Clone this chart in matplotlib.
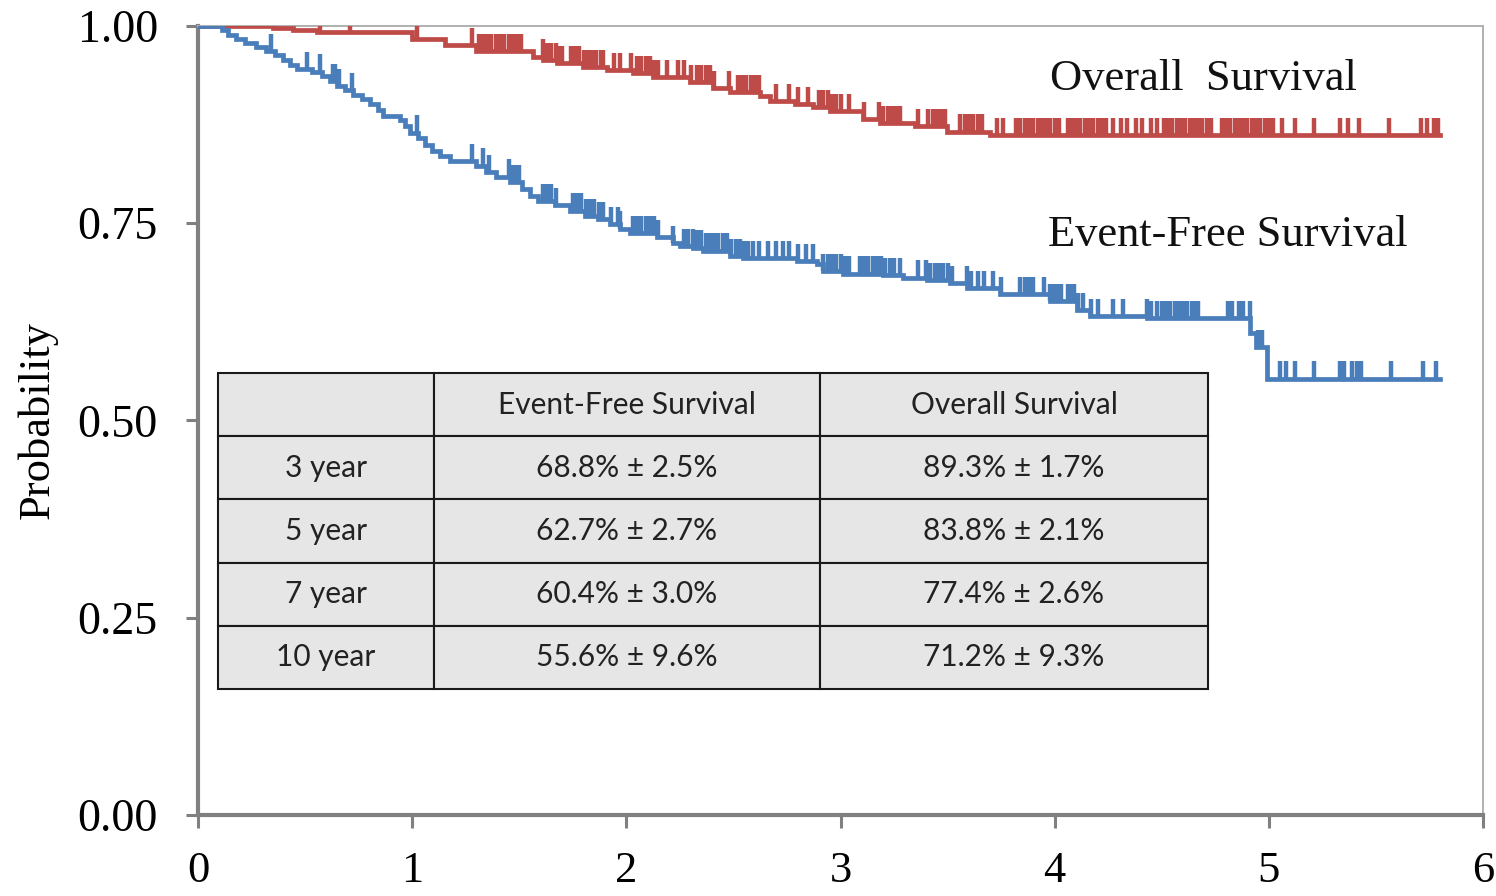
"""Kaplan-Meier curves for event-free and overall survival with a
summary table of landmark estimates drawn inside the plot area."""
import numpy as np
import matplotlib
matplotlib.use("Agg")
import matplotlib.pyplot as plt

plt.rcParams.update({
    "font.family": ["Liberation Serif", "DejaVu Serif"],
    "font.size": 32,
})

# Overall survival: step times (years) and survival after each step
os_time = [0.0, 0.350, 0.444, 0.556, 1.000, 1.153, 1.298, 1.564, 1.611,
           1.676, 1.798, 1.910, 2.031, 2.124, 2.297, 2.405, 2.484, 2.624,
           2.671, 2.788, 2.872, 2.951, 3.105, 3.184, 3.348, 3.497, 3.698]
os_surv = [1.000, 0.9975, 0.995, 0.992, 0.984, 0.976, 0.968, 0.961, 0.957,
           0.953, 0.948, 0.944, 0.940, 0.935, 0.929, 0.921, 0.916, 0.911,
           0.905, 0.901, 0.897, 0.892, 0.882, 0.877, 0.873, 0.866, 0.862]
os_censor = [
    0.57, 0.71, 1.02, 1.28,
    1.31, 1.33, 1.35, 1.37, 1.39, 1.41, 1.43, 1.45, 1.47, 1.49, 1.51,
    1.61, 1.63, 1.65, 1.67, 1.69, 1.70,
    1.74, 1.76, 1.78, 1.80, 1.82, 1.84, 1.86, 1.88,
    1.89, 1.94, 1.97, 2.02,
    2.05, 2.07, 2.09, 2.11, 2.13, 2.15,
    2.19, 2.24, 2.27, 2.30, 2.33,
    2.35, 2.37, 2.39, 2.41, 2.48,
    2.52, 2.54, 2.56, 2.58, 2.60, 2.62,
    2.70, 2.76, 2.80, 2.85,
    2.90, 2.92, 2.94, 2.96, 2.98, 3.00,
    3.04, 3.11,
    3.18, 3.20, 3.22, 3.24, 3.26, 3.28,
    3.36, 3.41, 3.43, 3.45, 3.47, 3.49,
    3.56, 3.58, 3.60, 3.62, 3.64, 3.66,
    3.73, 3.76,
    3.82, 3.84, 3.86, 3.88, 3.90, 3.92, 3.94, 3.96, 3.98, 4.00, 4.02,
    4.06, 4.08, 4.10, 4.12, 4.14, 4.16, 4.18, 4.20, 4.22, 4.24,
    4.27, 4.31, 4.34, 4.38, 4.41, 4.45, 4.48,
    4.51, 4.53, 4.55, 4.57, 4.59, 4.61, 4.63, 4.65, 4.67, 4.69, 4.71, 4.73,
    4.78, 4.80, 4.82, 4.84, 4.86, 4.88, 4.90, 4.92, 4.94, 4.96, 4.98, 5.00,
    5.02,
    5.06, 5.12, 5.21, 5.33, 5.37, 5.42, 5.56, 5.71, 5.74, 5.77, 5.79,
]

# Event-free survival
efs_time = [0.0, 0.112, 0.140, 0.177, 0.219, 0.271, 0.318, 0.360, 0.397,
            0.430, 0.462, 0.532, 0.579, 0.616, 0.649, 0.686, 0.724, 0.766,
            0.803, 0.840, 0.864, 0.943, 0.966, 0.990, 1.027, 1.060, 1.093,
            1.130, 1.177, 1.298, 1.345, 1.391, 1.457, 1.513, 1.550, 1.587,
            1.667, 1.737, 1.807, 1.868, 1.924, 1.970, 2.017, 2.143, 2.218,
            2.250, 2.311, 2.358, 2.484, 2.545, 2.797, 2.890, 2.918, 3.012,
            3.198, 3.292, 3.404, 3.511, 3.591, 3.745, 3.978, 4.104, 4.165,
            4.431, 4.912, 4.940, 4.991]
efs_surv = [1.000, 0.995, 0.989, 0.984, 0.978, 0.973, 0.968, 0.963, 0.957,
            0.951, 0.945, 0.942, 0.937, 0.930, 0.924, 0.919, 0.913, 0.907,
            0.901, 0.894, 0.886, 0.881, 0.873, 0.865, 0.858, 0.849, 0.842,
            0.835, 0.829, 0.823, 0.815, 0.809, 0.802, 0.793, 0.784, 0.778,
            0.773, 0.766, 0.759, 0.755, 0.749, 0.743, 0.737, 0.732, 0.725,
            0.721, 0.719, 0.715, 0.708, 0.706, 0.702, 0.698, 0.689, 0.686,
            0.684, 0.681, 0.678, 0.674, 0.668, 0.660, 0.651, 0.640, 0.632,
            0.630, 0.611, 0.593, 0.553]
efs_censor = [
    0.34, 0.51, 0.57, 0.63, 0.64, 0.66, 0.72, 1.02,
    1.28, 1.33, 1.36, 1.45, 1.47, 1.49, 1.50,
    1.61, 1.63, 1.64, 1.65, 1.67,
    1.75, 1.77, 1.79, 1.81, 1.83, 1.85, 1.87, 1.89,
    1.93, 1.96, 1.97,
    2.03, 2.05, 2.07, 2.09, 2.11, 2.13, 2.15,
    2.22, 2.27, 2.29, 2.31, 2.33,
    2.35, 2.37, 2.39, 2.41, 2.43, 2.45, 2.47,
    2.49, 2.51, 2.53, 2.55, 2.57,
    2.59, 2.62, 2.66, 2.70, 2.73, 2.76, 2.80, 2.84, 2.87,
    2.92, 2.94, 2.96, 2.98, 3.00, 3.02, 3.04,
    3.09, 3.11, 3.13, 3.15, 3.17, 3.19, 3.21, 3.23, 3.25,
    3.28, 3.36,
    3.40, 3.42, 3.44, 3.46, 3.48, 3.50, 3.52,
    3.59, 3.61, 3.64, 3.67, 3.71, 3.75,
    3.84, 3.86, 3.88, 3.90, 3.95, 3.98,
    3.99, 4.01, 4.03, 4.06, 4.07, 4.09, 4.11, 4.13, 4.17, 4.20,
    4.27, 4.32, 4.43, 4.45, 4.48,
    4.50, 4.52, 4.54, 4.56, 4.58, 4.60, 4.62, 4.64, 4.66, 4.67,
    4.81, 4.83, 4.86, 4.88, 4.91, 4.95, 4.97,
    5.05, 5.08, 5.12, 5.21, 5.33, 5.35, 5.39, 5.41, 5.43,
    5.57, 5.72, 5.78,
]

followup_end = 5.80

# Landmark estimates for the inset table
landmarks = ["3 year", "5 year", "7 year", "10 year"]
efs_est = ["68.8%", "62.7%", "60.4%", "55.6%"]
efs_se = ["2.5%", "2.7%", "3.0%", "9.6%"]
os_est = ["89.3%", "83.8%", "77.4%", "71.2%"]
os_se = ["1.7%", "2.1%", "2.6%", "9.3%"]

COL_OS = "#BE4B48"
COL_EFS = "#4A7EBB"
COL_AXIS = "#808080"
TICK_H = 0.022


def draw_km(ax, times, surv, censor, color):
    t = np.append(times, followup_end)
    s = np.append(surv, surv[-1])
    ax.step(t, s, where="post", color=color, lw=3.4, zorder=3,
            solid_joinstyle="miter")
    censor = np.asarray(censor)
    idx = np.searchsorted(times, censor, side="right") - 1
    base = np.asarray(surv)[idx]
    ax.vlines(censor, base, base + TICK_H, color=color, lw=3.2, zorder=3)


fig = plt.figure(figsize=(14.96, 8.96), dpi=100)
ax = fig.add_axes([0.1324, 0.0904, 0.8589, 0.8806])

draw_km(ax, os_time, os_surv, os_censor, COL_OS)
draw_km(ax, efs_time, efs_surv, efs_censor, COL_EFS)

ax.text(3.978, 0.919, "Overall  Survival", ha="left", va="baseline",
        fontsize=32, color="#111111")
ax.text(3.969, 0.721, "Event-Free Survival", ha="left", va="baseline",
        fontsize=32, color="#111111")

ax.set_xlim(0, 6)
ax.set_ylim(0, 1)
ax.set_xticks(range(7))
ax.set_yticks([0, 0.25, 0.5, 0.75, 1.0])
ax.set_yticklabels(["0.00", "0.25", "0.50", "0.75", "1.00"])
ax.tick_params(axis="both", direction="out", length=9, width=2.2,
               color=COL_AXIS)
ax.tick_params(axis="y", pad=20, labelsize=33)
ax.tick_params(axis="x", pad=17, labelsize=32)
ax.set_ylabel("Probability", fontsize=32, labelpad=14)

for side in ("left", "bottom"):
    ax.spines[side].set_color(COL_AXIS)
    ax.spines[side].set_linewidth(3.0)
for side in ("top", "right"):
    ax.spines[side].set_color("#b0b0b0")
    ax.spines[side].set_linewidth(1.4)

# Inset table of landmark estimates
cell_text = [["", "Event-Free Survival", "Overall Survival"]]
for i, lab in enumerate(landmarks):
    cell_text.append([lab,
                      f"{efs_est[i]} \u00b1 {efs_se[i]}",
                      f"{os_est[i]} \u00b1 {os_se[i]}"])

col_w = np.array([216, 386, 388], dtype=float)
tbl = ax.table(cellText=cell_text, cellLoc="center",
               colWidths=list(col_w / col_w.sum()),
               bbox=[0.0934 / 6, 0.16, (4.716 - 0.0934) / 6, 0.40])
tbl.auto_set_font_size(False)
for cell in tbl.get_celld().values():
    cell.set_facecolor("#e6e6e6")
    cell.set_edgecolor("#1a1a1a")
    cell.set_linewidth(1.5)
    cell.get_text().set_fontfamily(["Lato", "DejaVu Sans"])
    cell.get_text().set_fontsize(21.5)
    cell.get_text().set_color("#222222")

fig.savefig("out.png", dpi=100)
